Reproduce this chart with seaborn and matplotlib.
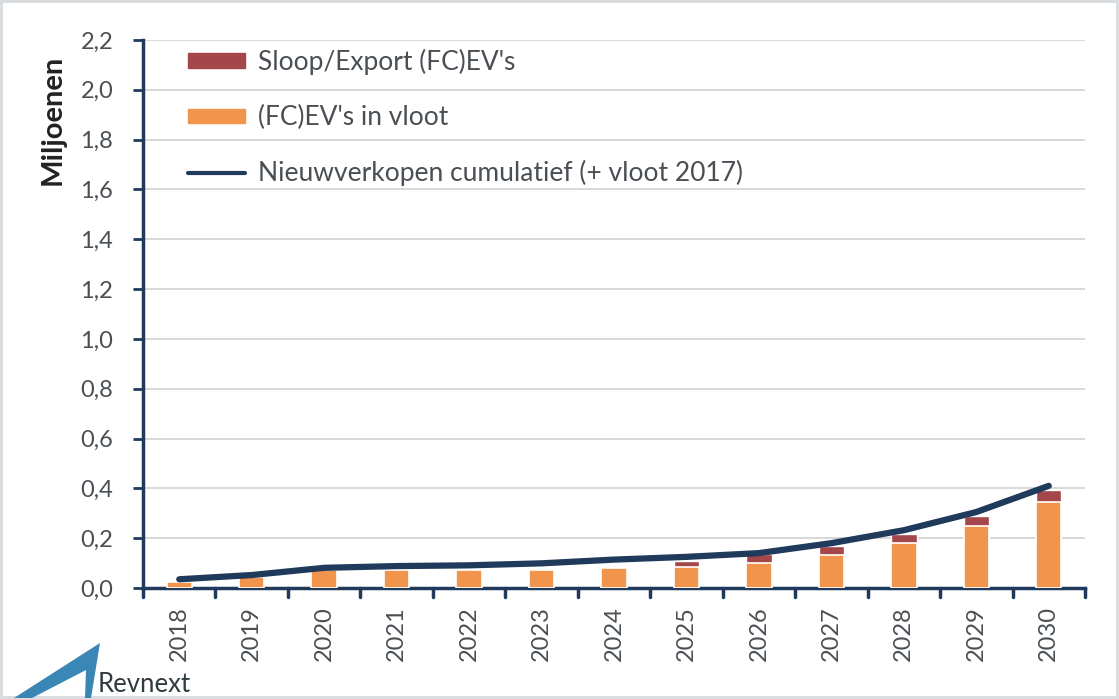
import numpy as np
import pandas as pd
import matplotlib
matplotlib.use("Agg")
import matplotlib.pyplot as plt
from matplotlib.patches import Patch, Polygon
from matplotlib.lines import Line2D
import seaborn as sns

years = ["2018", "2019", "2020", "2021", "2022", "2023", "2024",
         "2025", "2026", "2027", "2028", "2029", "2030"]
fleet = [0.025, 0.045, 0.072, 0.072, 0.072, 0.072, 0.080,
         0.085, 0.100, 0.133, 0.180, 0.250, 0.345]
scrapped = [0.0, 0.0, 0.0, 0.0, 0.0, 0.0, 0.004,
            0.022, 0.035, 0.035, 0.036, 0.040, 0.048]
cumulative = [0.035, 0.052, 0.081, 0.088, 0.091, 0.099, 0.114,
              0.125, 0.140, 0.180, 0.232, 0.305, 0.410]
y_ticks = [0.0, 0.2, 0.4, 0.6, 0.8, 1.0, 1.2, 1.4, 1.6, 1.8, 2.0, 2.2]

ORANGE = "#F0954B"
RED = "#A3474A"
NAVY = "#1F3A5B"
TEXT = "#4a4f54"

sns.set_theme(style="white")
plt.rcParams["font.family"] = ["Lato", "DejaVu Sans"]

df = pd.DataFrame({"year": years, "fleet": fleet,
                   "total": np.array(fleet) + np.array(scrapped),
                   "cum": cumulative})
df["pos"] = np.arange(len(df))

fig = plt.figure(figsize=(11.19, 6.99), dpi=100)
ax = fig.add_axes([0.1278, 0.1588, 0.8418, 0.7840])

# grid first so bars sit over it
for t in y_ticks[1:]:
    ax.axhline(t, color="#d2d2d2", lw=1.2, zorder=0)

# red on the bottom, orange over it with a white edge to mimic the gap
sns.barplot(data=df, x="year", y="total", color=RED, width=0.35,
            saturation=1, ax=ax, zorder=2)
sns.barplot(data=df, x="year", y="fleet", color=ORANGE, width=0.35,
            saturation=1, ax=ax, zorder=3, edgecolor="white", linewidth=1.2)
sns.lineplot(data=df, x="pos", y="cum", color=NAVY, lw=4.5, ax=ax, zorder=4)

ax.set_xlim(-0.5, len(years) - 0.5)
ax.set_ylim(0, 2.2)
ax.set_yticks(y_ticks)
ax.set_yticklabels([f"{t:.1f}".replace(".", ",") for t in y_ticks],
                   fontsize=17, color=TEXT)
ax.set_xticks(np.arange(len(years)))
ax.set_xticklabels(years, rotation=90, fontsize=17, color=TEXT)
ax.tick_params(axis="x", length=0, pad=13)
ax.tick_params(axis="y", length=7.5, width=2, color=NAVY, direction="out", pad=14, left=True)
ax.set_xlabel("")
ax.set_ylabel("")

# category boundary ticks like Excel
for b in np.arange(-0.5, len(years), 1.0):
    ax.plot([b, b], [0, -0.036], color=NAVY, lw=2.5, clip_on=False, zorder=5)

for side in ["top", "right"]:
    ax.spines[side].set_visible(False)
for side in ["left", "bottom"]:
    ax.spines[side].set_color(NAVY)
    ax.spines[side].set_linewidth(2.5)

handles = [Patch(facecolor=RED, edgecolor=RED),
           Patch(facecolor=ORANGE, edgecolor=ORANGE),
           Line2D([0], [0], color=NAVY, lw=3)]
labels = ["Sloop/Export (FC)EV's", "(FC)EV's in vloot",
          "Nieuwverkopen cumulatief (+ vloot 2017)"]
leg = ax.legend(handles, labels, loc="upper left", bbox_to_anchor=(0.0478, 0.984),
                frameon=False, fontsize=19, handlelength=2.16, handleheight=0.45,
                handletextpad=0.5, labelspacing=1.14, borderaxespad=0, borderpad=0)
for txt in leg.get_texts():
    txt.set_color(TEXT)

fig.text(53 / 1119, 1 - 120 / 699, "Miljoenen", rotation=90, fontsize=21,
         fontweight="bold", color="#222222", ha="center", va="center")

# Revnext logo
logo = Polygon([[14 / 1119, 1 - 698 / 699], [100 / 1119, 1 - 643 / 699],
                [91 / 1119, 1 - 698 / 699], [85 / 1119, 1 - 698 / 699],
                [86 / 1119, 1 - 670 / 699], [32 / 1119, 1 - 698 / 699]],
               closed=True, transform=fig.transFigure, facecolor="#3a86b4",
               edgecolor="none")
fig.patches.append(logo)
fig.text(98 / 1119, 1 - 685 / 699, "Revnext", fontsize=18.5, color="#2f3b40",
         ha="left", va="center")

fig.patch.set_edgecolor("#d9dde0")
fig.patch.set_linewidth(4)

fig.savefig("out.png", dpi=100)
plt.close(fig)
